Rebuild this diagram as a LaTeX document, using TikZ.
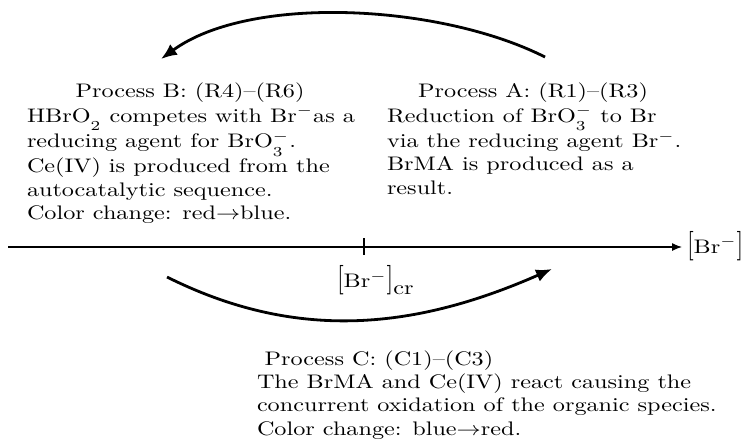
\documentclass[tikz,border=0pt]{standalone}
\usepackage{graphicx}
\usetikzlibrary{arrows.meta}
\newcommand{\sx}[1]{\scalebox{1.21}[0.98]{#1}}
\newcommand{\tlb}{\scalebox{1}[1.5]{[}}
\newcommand{\trb}{\scalebox{1}[1.5]{]}}
\newcommand{\lsub}[2]{_{\raisebox{-#1}{$\scriptstyle #2$}}}
\tikzset{
  txt/.style={inner sep=0pt, outer sep=0pt},
  arc/.style={line width=1.4pt, -{Latex[length=8pt,width=6.5pt]}},
  axis/.style={line width=0.6pt, -{Latex[length=5pt,width=4pt]}},
}
\begin{document}
\begin{tikzpicture}[x=0.5pt,y=-0.5pt]
\useasboundingbox (0,0) rectangle (745,441);
% upper arc (A -> B)
\coordinate (ua) at (545,57);
\coordinate (ub) at (161,59);
\draw[arc] (ua) .. controls (440,4) and (250,-6) .. (ub);
% Process B
\node[txt, anchor=base] (hB) at (190,97.5) {\sx{Process B: (R4)--(R6)}};
\node[txt, anchor=base west] (bB) at (27,122) {\sx{\begin{tabular}[t]{@{}l@{}}
HBrO$\lsub{3pt}{2}$ competes with Br$^-$as a\\
reducing agent for BrO$\lsub{2pt}{3}^-$.\\
Ce(IV) is produced from the\\
autocatalytic sequence.\\
Color change: red$\rightarrow$blue.
\end{tabular}}};
% Process A
\node[txt, anchor=base] (hA) at (533,97.5) {\sx{Process A: (R1)--(R3)}};
\node[txt, anchor=base west] (bA) at (387,122) {\sx{\begin{tabular}[t]{@{}l@{}}
Reduction of BrO$\lsub{2pt}{3}^-$ to Br\\
via the reducing agent Br$^-$.\\
BrMA is produced as a\\
result.
\end{tabular}}};
% axis
\coordinate (ax0) at (8,247);
\coordinate (ax1) at (682,247);
\draw[axis] (ax0) -- (ax1);
\node[txt, anchor=base west] (br) at (687,253) {\sx{\tlb Br$^-$\trb}};
\coordinate (tkT) at (364,238);
\coordinate (tkB) at (364,255);
\draw[line width=0.6pt] (tkT) -- (tkB);
\node[txt, anchor=base west] (cr) at (337,287.5) {\sx{\tlb Br$^-$\trb\raisebox{-3.8pt}{cr}}};
% lower arc (B -> A)
\coordinate (la) at (167,277);
\coordinate (lb) at (552,269);
\draw[arc] (la) .. controls (300,343.5) and (419,327.5) .. (lb);
% Process C
\node[txt, anchor=base] (hC) at (379,365) {\sx{Process C: (C1)--(C3)}};
\node[txt, anchor=base west] (bC) at (257,388) {\sx{\begin{tabular}[t]{@{}l@{}}
The BrMA and Ce(IV) react causing the\\
concurrent oxidation of the organic species.\\
Color change: blue$\rightarrow$red.
\end{tabular}}};
\end{tikzpicture}
\end{document}
